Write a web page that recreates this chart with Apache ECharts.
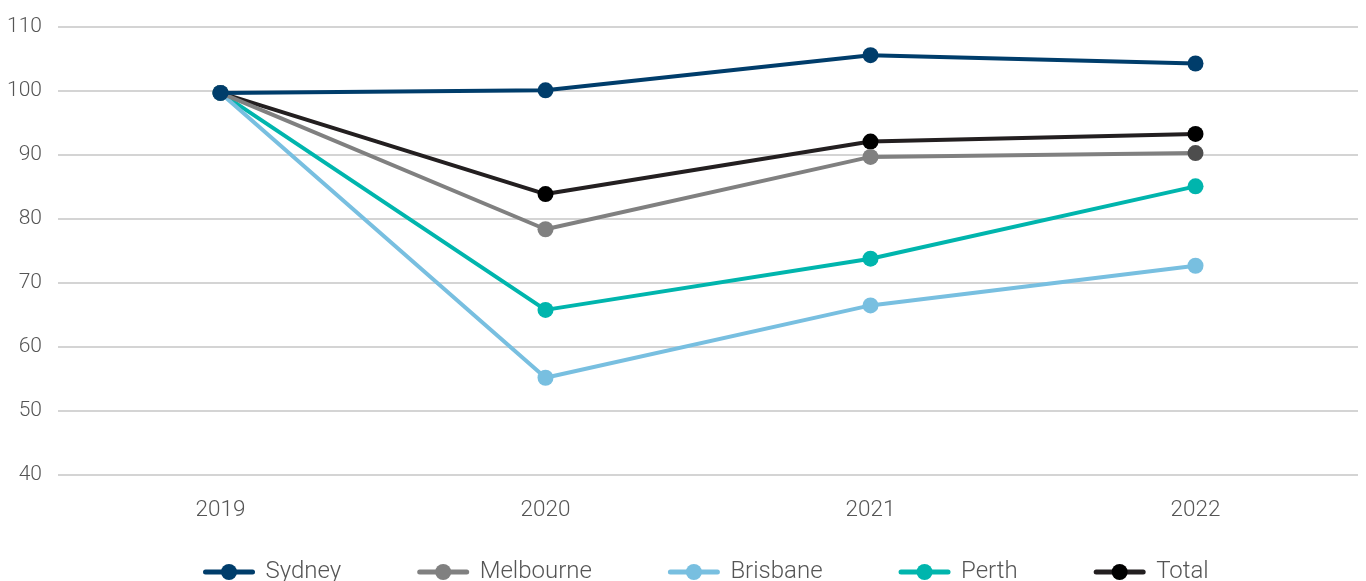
<!DOCTYPE html>
<html>
<head>
<meta charset="utf-8">
<script src="https://cdn.jsdelivr.net/npm/echarts@6/dist/echarts.min.js"></script>
<style>html,body{margin:0;padding:0;background:#fff;}#c{width:1366px;height:581px;}</style>
</head>
<body>
<div id="c"></div>
<script>
const categories = ['2019', '2020', '2021', '2022'];
const yTicks = [40, 50, 60, 70, 80, 90, 100, 110];
const seriesNames = ['Sydney', 'Melbourne', 'Brisbane', 'Perth', 'Total'];
const sydney = [99.7, 100.1, 105.6, 104.3];
const melbourne = [99.7, 78.4, 89.7, 90.3];
const brisbane = [99.7, 55.2, 66.5, 72.7];
const perth = [99.7, 65.8, 73.8, 85.1];
const total = [99.7, 83.9, 92.1, 93.3];

const lineColors = ['#003d6b', '#808080', '#78bfe0', '#00b5ad', '#231f20'];
const markerColors = ['#003d6b', '#808080', '#78bfe0', '#00b5ad', '#000000'];
const values = [sydney, melbourne, brisbane, perth, total];

const font = 'Roboto';
const chart = echarts.init(document.getElementById('c'), null, {renderer: 'canvas'});

const series = values.map((vals, i) => ({
  name: seriesNames[i],
  type: 'line',
  data: vals.map((v, j) => {
    if (i === 1 && j === vals.length - 1) return {value: v, itemStyle: {color: '#4d4d4d'}};
    return v;
  }),
  symbol: 'circle',
  symbolSize: 16,
  lineStyle: {color: lineColors[i], width: 4},
  itemStyle: {color: markerColors[i]},
  z: i === 0 ? 10 : 5 - i + 2,
  animation: false
}));

chart.setOption({
  animation: false,
  grid: {left: 58, right: 8, top: 27, bottom: 106, containLabel: false},
  xAxis: {
    type: 'category',
    data: categories,
    boundaryGap: true,
    axisLine: {show: false},
    axisTick: {show: false},
    axisLabel: {color: '#555', fontSize: 22.5, fontFamily: font, fontWeight: 300, margin: 24}
  },
  yAxis: {
    type: 'value',
    min: yTicks[0],
    max: yTicks[yTicks.length - 1],
    interval: 10,
    axisLine: {show: false},
    axisTick: {show: false},
    axisLabel: {color: '#555', fontSize: 21, fontFamily: font, fontWeight: 300, margin: 16},
    splitLine: {lineStyle: {color: '#d4d4d4', width: 2}}
  },
  legend: {
    data: seriesNames,
    bottom: -8,
    left: 198,
    itemWidth: 47,
    itemHeight: 20,
    itemGap: 76,
    lineStyle: {width: 5, cap: 'round'},
    textStyle: {color: '#555', fontSize: 24, fontFamily: font, fontWeight: 300, padding: [0, 0, 0, 8]}
  },
  series: series
});
</script>
</body>
</html>
